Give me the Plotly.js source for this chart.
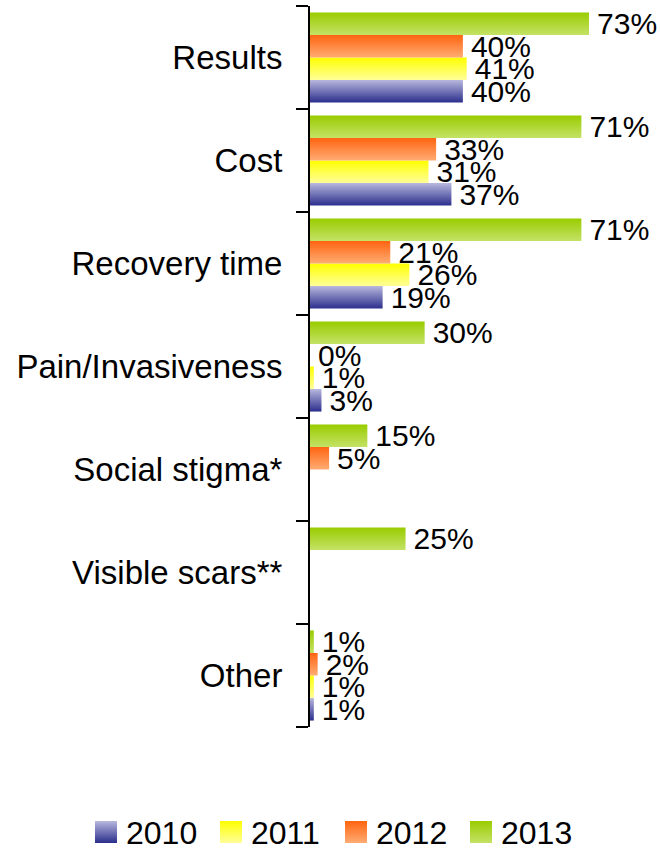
<!DOCTYPE html>
<html>
<head>
<meta charset="utf-8">
<script src="https://cdn.plot.ly/plotly-3.0.1.min.js"></script>
<style>html,body{margin:0;padding:0;background:#fff;}#chart{width:660px;height:850px;}</style>
</head>
<body>
<div id="chart"></div>
<script>
const categories = ["Results", "Cost", "Recovery time", "Pain/Invasiveness", "Social stigma*", "Visible scars**", "Other"];
const years = ["2010", "2011", "2012", "2013"];
const v2010 = [40, 37, 19, 3, null, null, 1];
const v2011 = [41, 31, 26, 1, null, null, 1];
const v2012 = [40, 33, 21, 0, 5, null, 2];
const v2013 = [73, 71, 71, 30, 15, 25, 1];
const seriesValues = [v2010, v2011, v2012, v2013];

const baseColors = ["#6f70b4", "#ffff55", "#ff8a3a", "#afd63a"];
const gradStops = [
  ["#b8b8de", "#2b2e8c"],
  ["#ffff00", "#ffff99"],
  ["#ff6410", "#ffac74"],
  ["#99cc00", "#c4e266"]
];

const font = "'Liberation Sans', Arial, sans-serif";

const traces = years.map((yr, i) => ({
  type: "bar",
  orientation: "h",
  name: yr,
  y: categories,
  x: seriesValues[i],
  marker: {color: baseColors[i], line: {width: 0}},
  texttemplate: "%{x}%",
  textposition: "outside",
  constraintext: "none",
  cliponaxis: false,
  textfont: {family: font, size: 30, color: "#000"},
  hoverinfo: "x+y+name"
}));

const layout = {
  width: 660,
  height: 850,
  margin: {l: 310, r: 6, t: 6, b: 123},
  paper_bgcolor: "#fff",
  plot_bgcolor: "#fff",
  barmode: "group",
  bargap: 0.125,
  bargroupgap: 0,
  font: {family: font, color: "#000"},
  showlegend: true,
  legend: {
    orientation: "h",
    xref: "paper", yref: "paper",
    x: -0.657, xanchor: "left",
    y: -0.1, yanchor: "middle",
    font: {family: font, size: 32, color: "#000"},
    traceorder: "normal",
    itemwidth: 30,
    entrywidth: 80
  },
  xaxis: {
    range: [0, 90],
    showgrid: false, zeroline: false, showline: false,
    showticklabels: false, ticks: ""
  },
  yaxis: {
    type: "category",
    categoryorder: "array",
    categoryarray: categories.slice().reverse(),
    range: [-0.5, 6.5],
    showline: true, linecolor: "#000", linewidth: 2,
    ticks: "outside", tickson: "boundaries", ticklen: 12, tickwidth: 2, tickcolor: "#000",
    ticklabelstandoff: 19,
    tickfont: {family: font, size: 33, color: "#000"},
    showgrid: false, zeroline: false
  }
};

Plotly.newPlot("chart", traces, layout, {displayModeBar: false, staticPlot: true}).then(gd => {
  const svg = gd.querySelector("svg.main-svg");
  const ns = "http://www.w3.org/2000/svg";
  let defs = svg.querySelector("defs");
  if (!defs) { defs = document.createElementNS(ns, "defs"); svg.insertBefore(defs, svg.firstChild); }
  gradStops.forEach((s, i) => {
    const lg = document.createElementNS(ns, "linearGradient");
    lg.setAttribute("id", "bargrad" + i);
    lg.setAttribute("x1", "0"); lg.setAttribute("y1", "0");
    lg.setAttribute("x2", "0"); lg.setAttribute("y2", "1");
    [[0, s[0]], [1, s[1]]].forEach(([o, c]) => {
      const st = document.createElementNS(ns, "stop");
      st.setAttribute("offset", o);
      st.setAttribute("stop-color", c);
      lg.appendChild(st);
    });
    defs.appendChild(lg);
  });
  gd.querySelectorAll(".barlayer .trace").forEach((tr, i) => {
    tr.querySelectorAll("path").forEach(p => { p.style.fill = "url(#bargrad" + i + ")"; });
    // a little more room between bar end and its value label, as in the reference
    tr.querySelectorAll("text.bartext").forEach(t => {
      const tf = t.getAttribute("transform") || "";
      t.setAttribute("transform", "translate(5,0) " + tf);
    });
  });
  gd.querySelectorAll(".legend .traces").forEach((tr, i) => {
    tr.querySelectorAll(".legendpoints path").forEach(p => {
      p.style.fill = "url(#bargrad" + i + ")";
      p.setAttribute("d", "M11,11H-11V-11H11Z");
    });
  });
  // place the legend row where the reference has it (below the plot area)
  const leg = gd.querySelector("g.legend");
  const sw = leg && leg.querySelector(".legendpoints path");
  if (leg && sw) {
    const r = sw.getBoundingClientRect();
    const dx = 95 - r.left;
    const dy = 832 - (r.top + r.height / 2);
    const m = /translate\(\s*([-\d.]+)[ ,]+([-\d.]+)\s*\)/.exec(leg.getAttribute("transform") || "");
    const tx = m ? parseFloat(m[1]) : 0, ty = m ? parseFloat(m[2]) : 0;
    leg.setAttribute("transform", "translate(" + (tx + dx) + "," + (ty + dy) + ")");
  }
});
</script>
</body>
</html>
